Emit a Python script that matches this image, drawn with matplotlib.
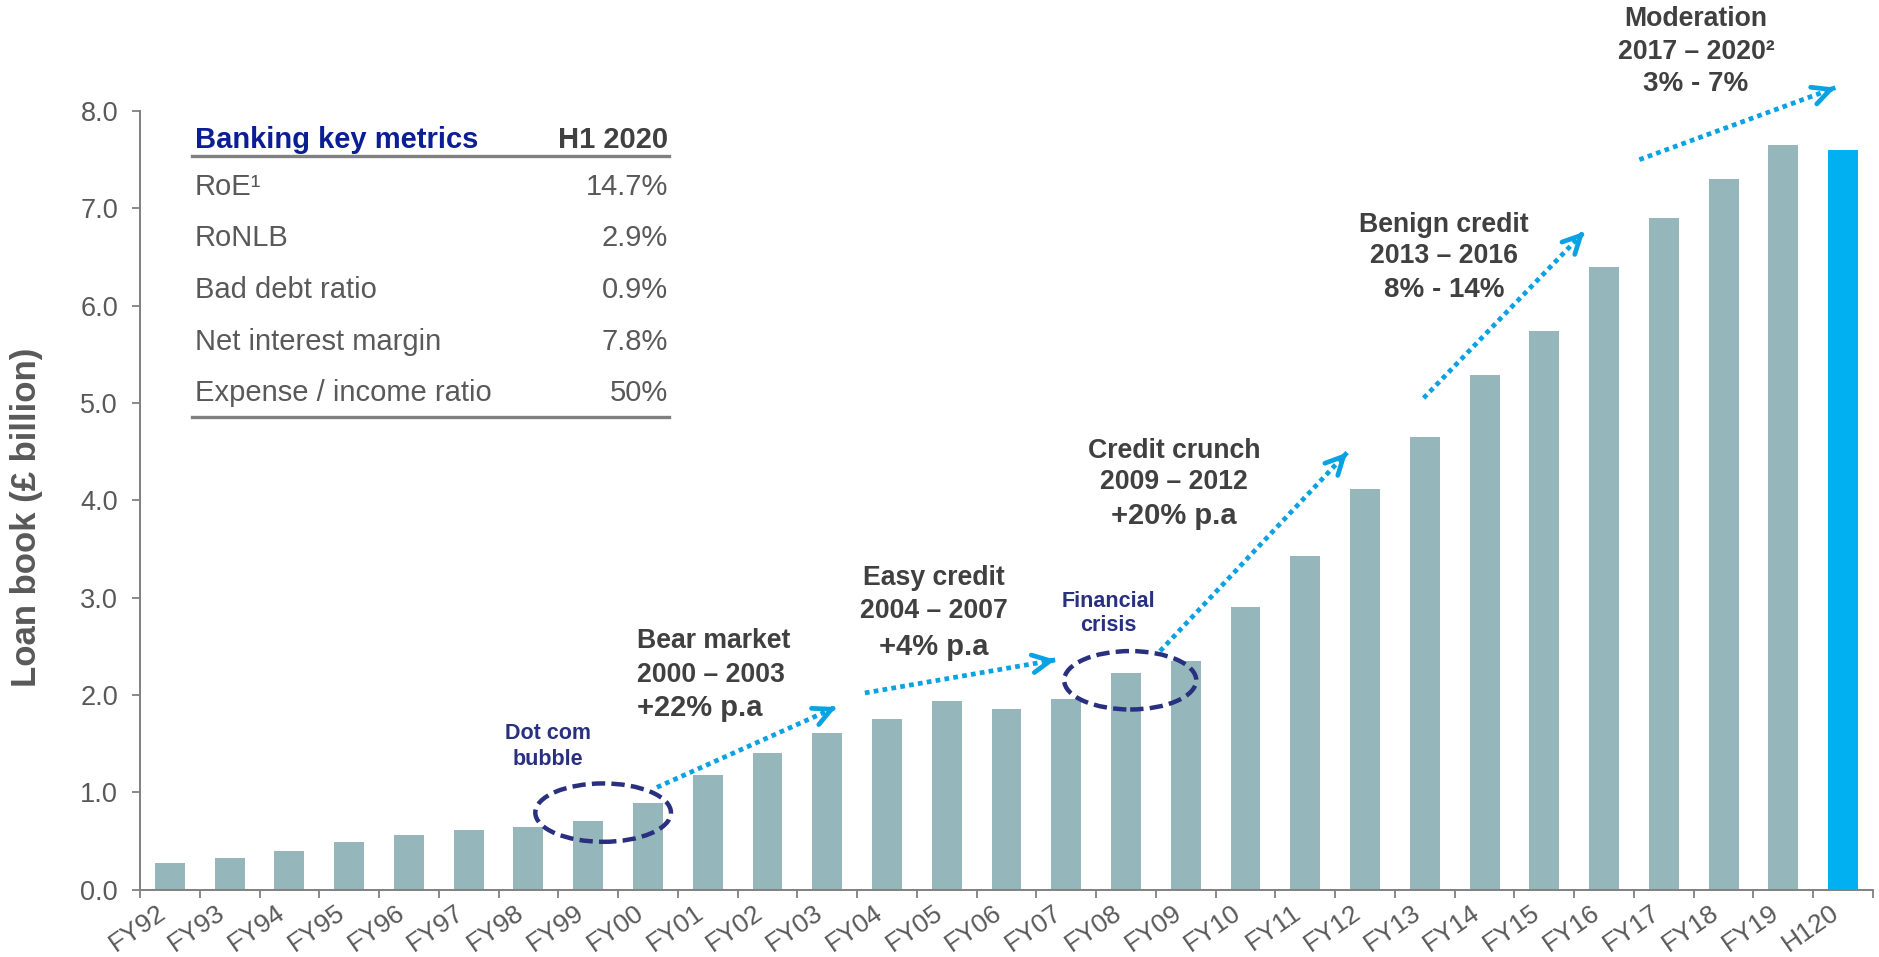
import matplotlib
matplotlib.use("Agg")
import matplotlib.pyplot as plt
from matplotlib.patches import Ellipse
from matplotlib.lines import Line2D

# ---- data ----
years = ["FY92", "FY93", "FY94", "FY95", "FY96", "FY97", "FY98", "FY99", "FY00",
         "FY01", "FY02", "FY03", "FY04", "FY05", "FY06", "FY07", "FY08", "FY09",
         "FY10", "FY11", "FY12", "FY13", "FY14", "FY15", "FY16", "FY17", "FY18",
         "FY19", "H120"]
loan_book = [0.27, 0.32, 0.40, 0.49, 0.565, 0.61, 0.645, 0.70, 0.89,
             1.18, 1.40, 1.61, 1.755, 1.935, 1.855, 1.96, 2.22, 2.35,
             2.90, 3.43, 4.12, 4.65, 5.29, 5.74, 6.40, 6.90, 7.30,
             7.65, 7.60]

metric_names = ["RoE\u00b9", "RoNLB", "Bad debt ratio", "Net interest margin",
                "Expense / income ratio"]
metric_values = ["14.7%", "2.9%", "0.9%", "7.8%", "50%"]

periods = [("Bear market", "2000 \u2013 2003", "+22% p.a"),
           ("Easy credit", "2004 \u2013 2007", "+4% p.a"),
           ("Credit crunch", "2009 \u2013 2012", "+20% p.a"),
           ("Benign credit", "2013 \u2013 2016", "8% - 14%"),
           ("Moderation", "2017 \u2013 2020\u00b2", "3% - 7%")]

# ---- style ----
W, H = 1879, 957
BAR = "#95B6BA"
HIGHLIGHT = "#00B0F0"
ARROW = "#0AA2E2"
NAVY = "#28307F"
DARK = "#404040"
GREY = "#595959"
AXIS = "#808080"

plt.rcParams['font.family'] = ['Liberation Sans', 'DejaVu Sans']

fig = plt.figure(figsize=(W / 100, H / 100), dpi=100, facecolor='w')
ax = fig.add_axes([140 / W, 1 - 889.5 / H, (1873 - 140) / W, (889.5 - 111) / H])

x = list(range(len(years)))
colors = [BAR] * (len(years) - 1) + [HIGHLIGHT]
ax.bar(x, loan_book, width=0.5, color=colors, zorder=2)

ax.set_xlim(-0.5, len(years) - 0.5)
ax.set_ylim(0, 8)
ax.set_yticks([i for i in range(9)])
ax.set_yticklabels(["%.1f" % i for i in range(9)])
ax.set_xticks(x)
ax.set_xticklabels(years, rotation=35, ha='right', va='top')
ax.set_xticks([i - 0.5 for i in range(len(years) + 1)], minor=True)

for s in ['top', 'right']:
    ax.spines[s].set_visible(False)
for s in ['left', 'bottom']:
    ax.spines[s].set_color(AXIS)
    ax.spines[s].set_linewidth(1.4)

ax.tick_params(axis='y', length=5.8, width=1.3, color=AXIS, pad=10,
               labelsize=19.5, labelcolor=GREY)
ax.tick_params(axis='x', which='major', length=0, pad=8,
               labelsize=19, labelcolor=GREY)
ax.tick_params(axis='x', which='minor', length=5.5, width=1.3, color=AXIS)

def fx(px):
    return px / W

def fy(py):
    return 1 - py / H

def dy(py):
    # pixel row -> data value
    return (889.5 - py) / 97.3

fig.text(fx(27), fy(517), "Loan book (\u00a3 billion)", rotation=90, ha='center',
         va='center', fontsize=25, fontweight='bold', color=GREY)

# ---- dashed ellipses ----
ax.add_patch(Ellipse((7.25, 0.79), 2.27, 0.60, fill=False, edgecolor=NAVY,
                     lw=3.2, linestyle=(0, (3, 1.4)), zorder=4, clip_on=False))
ax.add_patch(Ellipse((16.07, 2.15), 2.21, 0.60, fill=False, edgecolor=NAVY,
                     lw=3.2, linestyle=(0, (3, 1.4)), zorder=4, clip_on=False))

for txt, tx, ty in [("Dot com", 6.32, 734), ("bubble", 6.32, 760),
                    ("Financial", 15.7, 602), ("crisis", 15.7, 626)]:
    ax.text(tx, dy(ty), txt, ha='center', va='center', fontweight='bold',
            fontsize=15.5, color=NAVY)

# ---- dotted growth arrows ----
arrows = [((8.15, 1.05), (11.15, 1.875)),
          ((11.63, 2.02), (14.82, 2.36)),
          ((16.57, 2.45), (19.70, 4.49)),
          ((20.98, 5.05), (23.67, 6.76)),
          ((24.59, 7.50), (27.87, 8.24))]
for (x0, y0), (x1, y1) in arrows:
    ax.plot([x0, x1], [y0, y1], color=ARROW, lw=3.4, linestyle=(0, (1, 0.9)),
            dash_capstyle='butt', clip_on=False, zorder=5)
    ax.annotate("", xy=(x1, y1), xytext=(x1 - (x1 - x0) * 0.02, y1 - (y1 - y0) * 0.02),
                arrowprops=dict(arrowstyle='->', color=ARROW, lw=3.4,
                                mutation_scale=32, shrinkA=0, shrinkB=0),
                annotation_clip=False, zorder=5)

# ---- period labels (x in data units, y in pixel rows) ----
label_pos = [(7.82, 'left', (641, 675, 708)),
             (12.78, 'center', (578, 611, 647)),
             (16.80, 'center', (451, 482, 516)),
             (21.32, 'center', (225, 256, 290)),
             (25.54, 'center', (19, 52, 84))]
for (title, span, rate), (lx, align, ys) in zip(periods, label_pos):
    ax.text(lx, dy(ys[0]), title, ha=align, va='center', fontweight='bold',
            fontsize=19.2, color=DARK)
    ax.text(lx, dy(ys[1]), span, ha=align, va='center', fontweight='bold',
            fontsize=19.2, color=DARK)
    ax.text(lx, dy(ys[2]), rate, ha=align, va='center', fontweight='bold',
            fontsize=21 if "p.a" in rate else 20, color=DARK)

# ---- key metrics table (figure pixels) ----
fig.text(fx(195), fy(148), "Banking key metrics", ha='left', va='baseline',
         fontsize=21, fontweight='bold', color="#0B1E93")
fig.text(fx(668), fy(148), "H1 2020", ha='right', va='baseline',
         fontsize=21, fontweight='bold', color=DARK)
fig.add_artist(Line2D([fx(192), fx(669)], [fy(156), fy(156)], color=AXIS, lw=2.4))
for i, (name, val) in enumerate(zip(metric_names, metric_values)):
    yy = 195 + 51.5 * i
    fig.text(fx(195), fy(yy), name, ha='left', va='baseline', fontsize=21, color=GREY)
    fig.text(fx(668), fy(yy), val, ha='right', va='baseline', fontsize=21, color=GREY)
fig.add_artist(Line2D([fx(192), fx(669)], [fy(417), fy(417)], color=AXIS, lw=2.4))

plt.savefig('out.png', dpi=100, facecolor='w')
